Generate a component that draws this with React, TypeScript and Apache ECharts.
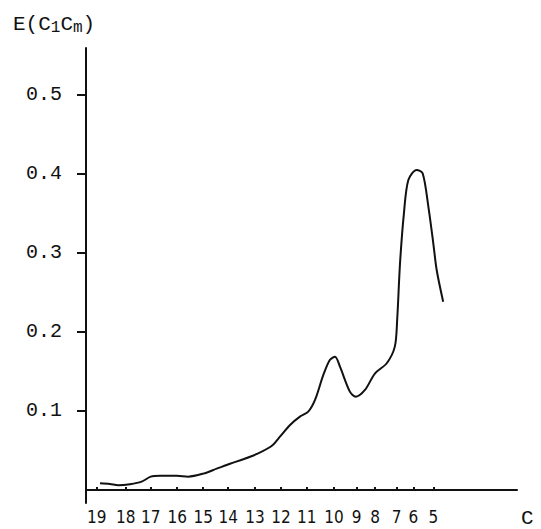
import React, { useEffect, useRef } from "react";
import * as echarts from "echarts";

// carbon-number tick labels and their positions along the (non-linear) x scale
const carbonLabels = ["19", "18", "17", "16", "15", "14", "13", "12", "11", "10", "9", "8", "7", "6", "5"];
const carbonPositions = [0.41, 1.53, 2.49, 3.51, 4.51, 5.47, 6.5, 7.5, 8.49, 9.54, 10.41, 11.12, 11.95, 12.59, 13.36];

// y tick labels
const yTicks = [0.1, 0.2, 0.3, 0.4, 0.5];

// curve: x positions (same scale as carbonPositions) and E(C1Cm) values
const curveX = [
  0.54, 0.92, 1.24, 1.69, 2.14, 2.49, 2.85, 3.49, 3.93, 4.51, 5.03, 5.54, 6.05, 6.57, 7.14, 7.46, 7.85, 8.23,
  8.55, 8.81, 9.13, 9.38, 9.58, 9.77, 10.15, 10.38, 10.73, 11.12, 11.57, 11.88, 11.97, 12.08, 12.23, 12.4,
  12.72, 12.95, 13.17, 13.36, 13.49, 13.74,
];
const curveY = [
  0.0085, 0.0076, 0.0059, 0.0072, 0.0105, 0.0168, 0.018, 0.018, 0.0168, 0.0206, 0.0269, 0.0332, 0.0388, 0.0455,
  0.0556, 0.0674, 0.0822, 0.0927, 0.099, 0.1138, 0.1454, 0.1643, 0.1685, 0.1559, 0.1243, 0.118, 0.1264, 0.1475,
  0.1602, 0.1812, 0.2149, 0.2866, 0.3498, 0.3919, 0.4046, 0.4004, 0.3582, 0.3119, 0.2781, 0.238,
];

const MONO = "'Liberation Mono', 'DejaVu Sans Mono', monospace";

export default function App() {
  const ref = useRef<HTMLDivElement>(null);
  useEffect(() => {
    if (!ref.current) return;
    const chart = echarts.init(ref.current, null, { renderer: "svg" });
    chart.setOption({
      animation: false,
      backgroundColor: "#ffffff",
      title: {
        text: "E(C{sub|1}C{sub|m})",
        left: 8,
        top: 7,
        textStyle: {
          fontFamily: MONO,
          fontSize: 21,
          fontWeight: "normal",
          color: "#111",
          rich: {
            sub: { fontFamily: MONO, fontSize: 16, color: "#111", padding: [8, 0, 0, 0] },
          },
        },
      },
      grid: { left: 86, right: 24, top: 48, bottom: 26 },
      xAxis: {
        type: "value",
        min: 0,
        max: 16.58,
        name: "C",
        nameLocation: "end",
        nameGap: 4,
        nameTextStyle: { fontFamily: MONO, fontSize: 21, color: "#111", verticalAlign: "top", padding: [18, 0, 0, 0] },
        axisLine: { show: true, lineStyle: { color: "#111", width: 2 } },
        axisTick: { show: true, inside: true, length: 3, customValues: carbonPositions, lineStyle: { color: "#111", width: 2 } },
        axisLabel: {
          customValues: carbonPositions,
          formatter: (v: number) => {
            const i = carbonPositions.indexOf(v);
            return i >= 0 ? carbonLabels[i] : "";
          },
          fontFamily: "'Liberation Sans Narrow', 'DejaVu Sans Condensed', sans-serif",
          fontSize: 17,
          color: "#111",
          margin: 5,
        },
        splitLine: { show: false },
      },
      yAxis: {
        type: "value",
        min: -0.0165,
        max: 0.5588,
        axisLine: { show: true, lineStyle: { color: "#111", width: 2 } },
        axisTick: { show: true, length: 9, customValues: yTicks, lineStyle: { color: "#111", width: 2 } },
        axisLabel: {
          customValues: yTicks,
          formatter: (v: number) => v.toFixed(1),
          fontFamily: MONO,
          fontSize: 20,
          color: "#111",
          margin: 24,
        },
        splitLine: { show: false },
      },
      series: [
        {
          type: "line",
          data: curveX.map((x, i) => [x, curveY[i]]),
          smooth: 0.3,
          showSymbol: false,
          symbol: "none",
          lineStyle: { color: "#111", width: 2 },
        },
      ],
    });
    return () => chart.dispose();
  }, []);
  return <div ref={ref} style={{ position: "absolute", left: 0, top: 0, width: 541, height: 529 }} />;
}
